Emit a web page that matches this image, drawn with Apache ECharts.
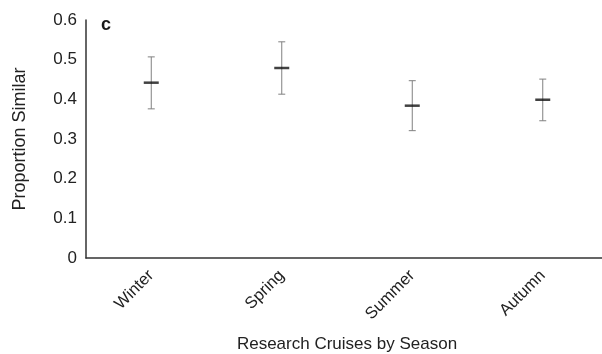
<!DOCTYPE html>
<html>
<head>
<meta charset="utf-8">
<script src="https://cdn.jsdelivr.net/npm/echarts@6/dist/echarts.min.js"></script>
<style>
  html, body { margin: 0; padding: 0; background: #fff; }
  #chart { width: 602px; height: 354px; }
</style>
</head>
<body>
<div id="chart"></div>
<script>
// seasons and the proportion values
const seasons = ["Winter", "Spring", "Summer", "Autumn"];
const meanValues = [0.442, 0.479, 0.384, 0.399];
const upperValues = [0.507, 0.545, 0.447, 0.451];
const lowerValues = [0.376, 0.413, 0.321, 0.346];
const yTicks = [0, 0.1, 0.2, 0.3, 0.4, 0.5, 0.6];

const font = "'Liberation Sans', Arial, Helvetica, sans-serif";

const errorData = seasons.map((s, i) => [i, lowerValues[i], upperValues[i]]);
const meanData = seasons.map((s, i) => [i, meanValues[i]]);

let myChart = echarts.init(document.getElementById("chart"));
let option;
option = {
  animation: false,
  backgroundColor: "#fff",
  textStyle: { fontFamily: font },
  graphic: [
    {
      type: "text",
      left: 101,
      top: 16,
      style: { text: "c", font: "bold 18px " + font, fill: "#1a1a1a" },
    },
  ],
  grid: {
    left: 86,
    right: -6,
    top: 20,
    bottom: 96,
    outerBoundsMode: "none",
    containLabel: false,
  },
  xAxis: {
    type: "category",
    data: seasons,
    name: "Research Cruises by Season",
    nameLocation: "middle",
    nameGap: 78,
    nameTextStyle: { fontSize: 17, color: "#222", fontFamily: font },
    axisLine: { lineStyle: { color: "#333", width: 1.5 } },
    axisTick: { show: false },
    axisLabel: {
      rotate: 45,
      fontSize: 16.5,
      color: "#222",
      margin: 15,
      fontFamily: font,
    },
    splitLine: { show: false },
  },
  yAxis: {
    type: "value",
    min: 0,
    max: 0.6,
    interval: 0.1,
    name: "Proportion Similar",
    nameLocation: "middle",
    nameGap: 57,
    nameTextStyle: { fontSize: 18, color: "#222", fontFamily: font },
    axisLine: { show: true, lineStyle: { color: "#333", width: 1.5 } },
    axisTick: { show: false },
    axisLabel: {
      fontSize: 17,
      color: "#222",
      margin: 9,
      fontFamily: font,
      formatter: (v) => {
        const t = yTicks.find((k) => Math.abs(k - v) < 1e-9);
        return t === 0 ? "0" : String(t);
      },
    },
    splitLine: { show: false },
  },
  series: [
    {
      type: "custom",
      name: "range",
      data: errorData,
      renderItem: function (params, api) {
        const x = api.value(0);
        const lo = api.coord([x, api.value(1)]);
        const hi = api.coord([x, api.value(2)]);
        const cap = 3.5;
        const style = { stroke: "#808080", lineWidth: 1 };
        return {
          type: "group",
          children: [
            { type: "line", shape: { x1: lo[0], y1: lo[1], x2: hi[0], y2: hi[1] }, style: style },
            { type: "line", shape: { x1: lo[0] - cap, y1: lo[1], x2: lo[0] + cap, y2: lo[1] }, style: style },
            { type: "line", shape: { x1: hi[0] - cap, y1: hi[1], x2: hi[0] + cap, y2: hi[1] }, style: style },
          ],
        };
      },
      z: 2,
    },
    {
      type: "scatter",
      name: "mean",
      data: meanData,
      symbol: "rect",
      symbolSize: [15, 2.5],
      itemStyle: { color: "#111" },
      z: 3,
    },
  ],
};
myChart.setOption(option);
</script>
</body>
</html>
